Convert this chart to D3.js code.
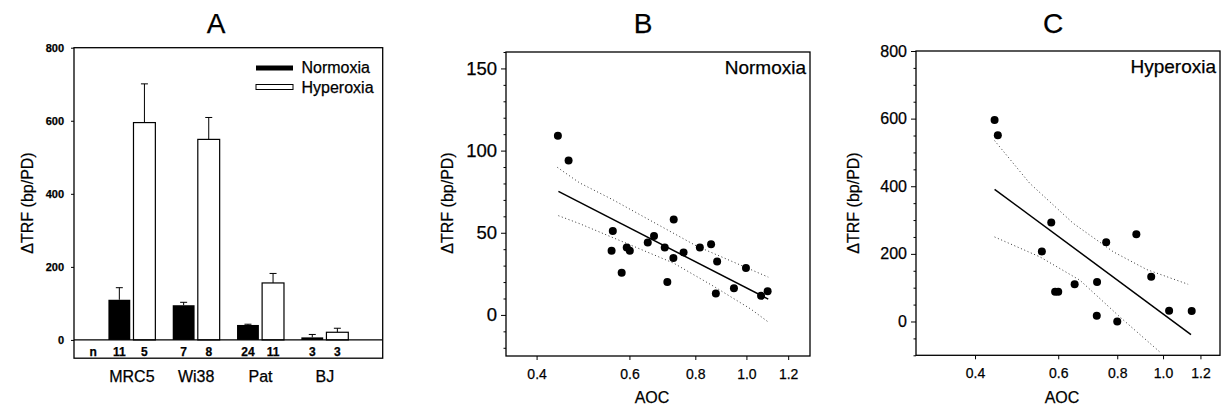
<!DOCTYPE html>
<html>
<head>
<meta charset="utf-8">
<script src="https://cdn.jsdelivr.net/npm/d3@7"></script>
<style>
  body { margin: 0; background: #fff; }
  svg { display: block; font-family: "Liberation Sans", Arial, sans-serif; }
  svg text { stroke: #000; stroke-width: 0.25px; }
  .frame { fill: none; stroke: #000; stroke-width: 1.3px; }
  .axis path.domain { display: none; }
  .axis line { stroke: #000; stroke-width: 1px; }
  .fit { fill: none; stroke: #000; stroke-width: 1.5px; }
  .ci { fill: none; stroke: #333; stroke-width: 1px; stroke-dasharray: 1, 2.6; }
</style>
</head>
<body>
<div id="chart"></div>
<script>
// ---- panel A: bars ----
const groups = ['MRC5', 'Wi38', 'Pat', 'BJ'];
const normoxiaMean = [110, 95, 41, 7];
const normoxiaSE = [33, 8, 2, 8];
const hyperoxiaMean = [595, 549, 156, 21];
const hyperoxiaSE = [106, 60, 26, 11];
const normoxiaN = [11, 7, 24, 3];
const hyperoxiaN = [5, 8, 11, 3];
const barTicks = [0, 200, 400, 600, 800];

// ---- panel B: normoxia scatter ----
const normAOC = [0.439, 0.46, 0.558, 0.555, 0.58, 0.593, 0.601, 0.65, 0.668, 0.70, 0.708,
  0.728, 0.727, 0.76, 0.816, 0.857, 0.88, 0.875, 0.947, 0.998, 1.066, 1.097];
const normTRF = [109, 94, 51, 39, 25.6, 41, 39, 44, 48, 41, 20,
  58, 34.6, 38, 41, 43, 32.5, 13, 16.3, 28.5, 11.6, 14.4];
const normFitX = [0.44, 1.1];
const normFitY = [75.2, 9.6];
const normUpperX = [0.438, 0.483, 0.558, 0.807, 1.1];
const normUpperY = [89.8, 80.3, 70.1, 41.7, 23];
const normLowerX = [0.44, 0.483, 0.728, 0.868, 1.02, 1.1];
const normLowerY = [60.4, 55.5, 31.5, 17.3, 3.5, -4.3];
const normXTicks = [0.4, 0.6, 0.8, 1.0, 1.2];
const normYTicks = [0, 50, 100, 150];

// ---- panel C: hyperoxia scatter ----
const hypAOC = [0.44, 0.447, 0.58, 0.554, 0.591, 0.60, 0.65, 0.725, 0.724, 0.758, 0.80,
  0.878, 0.944, 1.03, 1.15];
const hypTRF = [596, 551, 293, 207, 88, 88, 110, 117, 17, 234, 0,
  258, 132, 32, 31];
const hypFitX = [0.44, 1.146];
const hypFitY = [391, -38.6];
const hypUpperX = [0.44, 0.522, 0.646, 0.785, 0.924, 1.13];
const hypUpperY = [535, 409, 290, 206, 153.5, 110];
const hypLowerX = [0.44, 0.549, 0.667, 0.811, 0.986];
const hypLowerY = [250, 191, 122, 13, -91];
const hypXTicks = [0.4, 0.6, 0.8, 1.0, 1.2];
const hypYTicks = [0, 200, 400, 600, 800];

const svg = d3.select('#chart').append('svg')
  .attr('width', 1224).attr('height', 408);

function title(txt, x) {
  svg.append('text').attr('x', x).attr('y', 33)
    .attr('text-anchor', 'middle').attr('font-size', 28).text(txt);
}

function yLabel(x) {
  svg.append('text')
    .attr('transform', `translate(${x},203) rotate(-90)`)
    .attr('text-anchor', 'middle').attr('font-size', 16)
    .text('\u0394TRF (bp/PD)');
}

// ================= A =================
(function () {
  const x = d3.scaleLinear().domain([0.1, 4.9]).range([74, 382.7]);
  const y = d3.scaleLinear().domain([-50, 800]).range([358.2, 47.7]);
  const off = 0.195, bw = 0.34;
  const g = svg.append('g');

  title('A', 216);
  yLabel(33);

  g.append('g').attr('class', 'axis')
    .attr('transform', `translate(${x.range()[0]},0)`)
    .call(d3.axisLeft(y).tickValues(barTicks).tickSize(3).tickPadding(7))
    .call((a) => a.selectAll('text').attr('font-size', 11).attr('font-weight', 'bold')
      .attr('font-family', null));

  const rows = groups.map((name, i) => ({
    name, pos: i + 1,
    n: normoxiaMean[i], nse: normoxiaSE[i], nn: normoxiaN[i],
    h: hyperoxiaMean[i], hse: hyperoxiaSE[i], hn: hyperoxiaN[i]
  }));

  // error bars first, bars on top
  const err = (d, k, kse, dx) => {
    const cx = x(d.pos + dx);
    g.append('line').attr('x1', cx).attr('x2', cx)
      .attr('y1', y(d[k])).attr('y2', y(d[k] + d[kse])).attr('stroke', '#000');
    g.append('line').attr('x1', cx - 3.5).attr('x2', cx + 3.5)
      .attr('y1', y(d[k] + d[kse])).attr('y2', y(d[k] + d[kse])).attr('stroke', '#000');
  };
  rows.forEach((d) => { err(d, 'n', 'nse', -off); err(d, 'h', 'hse', off); });

  g.selectAll('.barN').data(rows).join('rect')
    .attr('x', (d) => x(d.pos - off - bw / 2))
    .attr('width', x(bw) - x(0))
    .attr('y', (d) => y(d.n))
    .attr('height', (d) => y(0) - y(d.n))
    .attr('fill', '#000');

  g.selectAll('.barH').data(rows).join('rect')
    .attr('x', (d) => x(d.pos + off - bw / 2))
    .attr('width', x(bw) - x(0))
    .attr('y', (d) => y(d.h))
    .attr('height', (d) => y(0) - y(d.h))
    .attr('fill', '#fff').attr('stroke', '#000').attr('stroke-width', 1.2);

  // zero line and frame
  g.append('line').attr('x1', x.range()[0]).attr('x2', x.range()[1])
    .attr('y1', y(0)).attr('y2', y(0)).attr('stroke', '#000').attr('stroke-width', 1.3);
  g.append('rect').attr('class', 'frame')
    .attr('x', x.range()[0]).attr('y', y.range()[1])
    .attr('width', x.range()[1] - x.range()[0]).attr('height', y.range()[0] - y.range()[1]);

  // n row
  const nRow = g.append('g').attr('font-size', 12).attr('font-weight', 'bold')
    .attr('text-anchor', 'middle');
  nRow.append('text').attr('x', x(0.4)).attr('y', 356).text('n');
  rows.forEach((d) => {
    nRow.append('text').attr('x', x(d.pos - off)).attr('y', 356).text(d.nn);
    nRow.append('text').attr('x', x(d.pos + off)).attr('y', 356).text(d.hn);
  });

  // group labels
  g.selectAll('.grp').data(rows).join('text')
    .attr('x', (d) => x(d.pos)).attr('y', 381.5)
    .attr('text-anchor', 'middle').attr('font-size', 16)
    .text((d) => d.name);

  // legend
  const lg = g.append('g').attr('font-size', 16);
  lg.append('rect').attr('x', 256).attr('y', 65.5).attr('width', 37).attr('height', 5).attr('fill', '#000');
  lg.append('text').attr('x', 301.5).attr('y', 72.7).text('Normoxia');
  lg.append('rect').attr('x', 256).attr('y', 84.5).attr('width', 37).attr('height', 5)
    .attr('fill', '#fff').attr('stroke', '#000').attr('stroke-width', 1);
  lg.append('text').attr('x', 301.5).attr('y', 92.7).text('Hyperoxia');
})();

// ================= scatter panels =================
function scatter(o) {
  const x = d3.scaleLog().domain(o.xDomain).range(o.xRange);
  const y = d3.scaleLinear().domain(o.yDomain).range(o.yRange);
  const g = svg.append('g');
  const clipId = 'clip-' + o.id;

  title(o.title, o.titleX);
  yLabel(o.yLabelX);

  g.append('clipPath').attr('id', clipId).append('rect')
    .attr('x', o.xRange[0]).attr('y', o.yRange[1])
    .attr('width', o.xRange[1] - o.xRange[0]).attr('height', o.yRange[0] - o.yRange[1]);

  // minor y ticks
  g.append('g').attr('class', 'axis')
    .attr('transform', `translate(${o.xRange[0]},0)`)
    .call(d3.axisLeft(y).tickValues(o.minorY).tickSize(2.5).tickFormat(''));
  // major y ticks
  g.append('g').attr('class', 'axis')
    .attr('transform', `translate(${o.xRange[0]},0)`)
    .call(d3.axisLeft(y).tickValues(o.yTicks).tickSize(5).tickPadding(4))
    .call((a) => a.selectAll('text').attr('font-size', o.yTickSize).attr('font-family', null));
  // x ticks
  g.append('g').attr('class', 'axis')
    .attr('transform', `translate(0,${o.yRange[0]})`)
    .call(d3.axisBottom(x).tickValues(o.xTicks).tickSize(4).tickPadding(9)
      .tickFormat(d3.format('.1f')))
    .call((a) => a.selectAll('text').attr('font-size', 14).attr('font-family', null));

  const line = d3.line().x((d) => x(d[0])).y((d) => y(d[1]));
  const plot = g.append('g').attr('clip-path', `url(#${clipId})`);
  plot.append('path').attr('class', 'ci').attr('d', line(d3.zip(o.upX, o.upY)));
  plot.append('path').attr('class', 'ci').attr('d', line(d3.zip(o.loX, o.loY)));
  plot.append('path').attr('class', 'fit').attr('d', line(d3.zip(o.fitX, o.fitY)));

  plot.selectAll('circle').data(d3.zip(o.px, o.py)).join('circle')
    .attr('cx', (d) => x(d[0])).attr('cy', (d) => y(d[1])).attr('r', 4).attr('fill', '#000');

  g.append('rect').attr('class', 'frame')
    .attr('x', o.xRange[0]).attr('y', o.yRange[1])
    .attr('width', o.xRange[1] - o.xRange[0]).attr('height', o.yRange[0] - o.yRange[1]);

  g.append('text').attr('x', o.xRange[1] - 4).attr('y', o.yRange[1] + 22)
    .attr('text-anchor', 'end').attr('font-size', 19).text(o.label);

  g.append('text').attr('x', (o.xRange[0] + o.xRange[1]) / 2 - 6).attr('y', 402.7)
    .attr('text-anchor', 'middle').attr('font-size', 16).text('AOC');
}

scatter({
  id: 'b', title: 'B', titleX: 643, yLabelX: 453, label: 'Normoxia',
  xDomain: [0.35, 1.32], xRange: [506, 810],
  yDomain: [-25, 160], yRange: [356, 52],
  xTicks: normXTicks, yTicks: normYTicks, yTickSize: 18.5,
  minorY: d3.range(-20, 161, 10).filter((v) => v % 50 !== 0),
  px: normAOC, py: normTRF,
  fitX: normFitX, fitY: normFitY,
  upX: normUpperX, upY: normUpperY, loX: normLowerX, loY: normLowerY
});

scatter({
  id: 'c', title: 'C', titleX: 1053, yLabelX: 859, label: 'Hyperoxia',
  xDomain: [0.30, 1.32], xRange: [916, 1220],
  yDomain: [-100, 800], yRange: [355.3, 51],
  xTicks: hypXTicks, yTicks: hypYTicks, yTickSize: 16,
  minorY: d3.range(-100, 801, 50).filter((v) => v % 200 !== 0),
  px: hypAOC, py: hypTRF,
  fitX: hypFitX, fitY: hypFitY,
  upX: hypUpperX, upY: hypUpperY, loX: hypLowerX, loY: hypLowerY
});
</script>
</body>
</html>
